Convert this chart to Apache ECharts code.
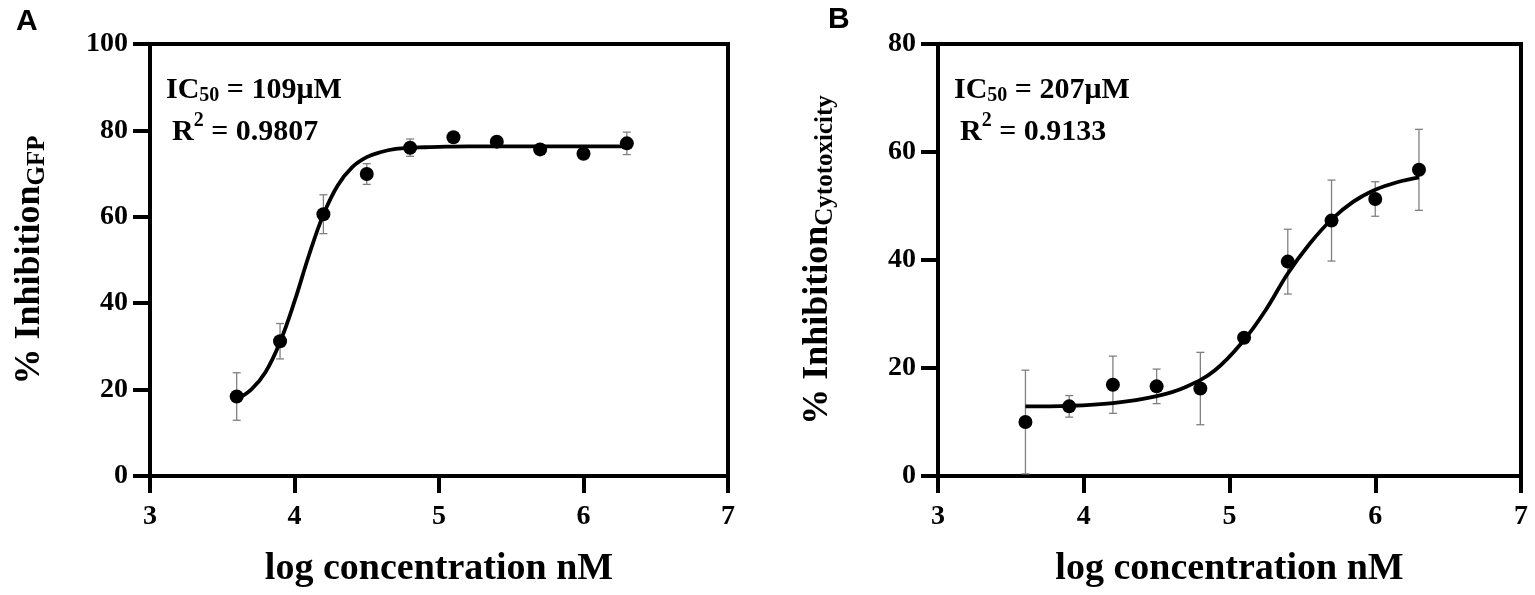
<!DOCTYPE html>
<html>
<head>
<meta charset="utf-8">
<script src="https://cdn.jsdelivr.net/npm/echarts@6/dist/echarts.min.js"></script>
<style>
  html, body { margin: 0; padding: 0; background: #fff; }
  #showcase { width: 1535px; height: 595px; }
</style>
</head>
<body>
<div id="showcase"></div>
<script>
// measured points (log concentration, mean, sd)
var doseX = [3.6, 3.9, 4.2, 4.5, 4.8, 5.1, 5.4, 5.7, 6.0, 6.3];

var gfpMean = [18.4, 31.2, 60.6, 69.9, 76.0, 78.4, 77.4, 75.6, 74.6, 77.0];
var gfpErr  = [5.5, 4.1, 4.5, 2.4, 2.0, 0.6, 0.6, 1.0, 1.0, 2.6];

var cytoMean = [10.0, 12.9, 16.9, 16.6, 16.2, 25.6, 39.7, 47.3, 51.3, 56.7];
var cytoErr  = [9.6, 2.0, 5.3, 3.2, 6.7, 0.8, 6.0, 7.5, 3.2, 7.5];

// fitted curves
var gfpFitX = [3.6, 3.7, 3.8, 3.9, 4.0, 4.1, 4.2, 4.3, 4.4, 4.5, 4.6, 4.7, 4.8, 4.9, 5.0, 5.2, 5.6, 6.0, 6.3];
var gfpFitY = [17.8, 20.0, 24.1, 31.0, 40.4, 51.1, 60.5, 67.3, 71.5, 73.8, 75.0, 75.7, 76.0, 76.1, 76.2, 76.3, 76.3, 76.3, 76.3];

var cytoFitX = [3.6, 3.9, 4.2, 4.5, 4.7, 4.9, 5.1, 5.25, 5.4, 5.55, 5.7, 5.85, 6.0, 6.15, 6.3];
var cytoFitY = [12.9, 13.0, 13.5, 14.8, 16.5, 19.6, 25.2, 30.8, 37.5, 43.0, 47.5, 50.8, 53.0, 54.4, 55.3];

var serif = "'Liberation Serif', 'Times New Roman', serif";
var sans = "'Liberation Sans', Arial, sans-serif";

function zip(a, b) {
    return a.map(function (v, i) { return [v, b[i]]; });
}

function errData(xs, m, e) {
    return xs.map(function (x, i) { return [x, m[i] - e[i], m[i] + e[i]]; });
}

function renderErr(params, api) {
    var x = api.value(0);
    var lo = api.coord([x, api.value(1)]);
    var hi = api.coord([x, api.value(2)]);
    var cap = 4;
    var st = { stroke: '#808080', lineWidth: 1.3 };
    return {
        type: 'group',
        children: [
            { type: 'line', shape: { x1: lo[0], y1: lo[1], x2: hi[0], y2: hi[1] }, style: st },
            { type: 'line', shape: { x1: hi[0] - cap, y1: hi[1], x2: hi[0] + cap, y2: hi[1] }, style: st },
            { type: 'line', shape: { x1: lo[0] - cap, y1: lo[1], x2: lo[0] + cap, y2: lo[1] }, style: st }
        ]
    };
}

function xAxisOpt(idx) {
    return {
        type: 'value', gridIndex: idx, min: 3, max: 7, interval: 1,
        name: 'log concentration nM', nameLocation: 'middle', nameGap: 74,
        nameTextStyle: { fontFamily: serif, fontWeight: 'bold', fontSize: 38, color: '#000' },
        axisLine: { lineStyle: { color: '#000', width: 4 } },
        axisTick: { inside: false, length: 17, lineStyle: { color: '#000', width: 4 } },
        axisLabel: { margin: 27, fontFamily: serif, fontWeight: 'bold', fontSize: 28, color: '#000' },
        splitLine: { show: false }
    };
}

function yAxisOpt(idx, max, main, sub) {
    return {
        type: 'value', gridIndex: idx, min: 0, max: max, interval: 20,
        name: '{m|' + main + '}{s|' + sub + '}', nameLocation: 'middle', nameGap: 100, nameRotate: 90,
        nameTextStyle: {
            color: '#000',
            rich: {
                m: { fontFamily: serif, fontWeight: 'bold', fontSize: 36, lineHeight: 40, color: '#000' },
                s: { fontFamily: serif, fontWeight: 'bold', fontSize: 25, lineHeight: 14, verticalAlign: 'bottom', color: '#000' }
            }
        },
        axisLine: { lineStyle: { color: '#000', width: 4 } },
        axisTick: { inside: false, length: 17, lineStyle: { color: '#000', width: 4 } },
        axisLabel: { margin: 22, fontFamily: serif, fontWeight: 'bold', fontSize: 28, color: '#000' },
        splitLine: { show: false }
    };
}

function statText(x, y, ic, r2) {
    var rich = {
        m: { fontFamily: serif, fontWeight: 'bold', fontSize: 30, lineHeight: 30, fill: '#000' },
        s: { fontFamily: serif, fontWeight: 'bold', fontSize: 20, lineHeight: 12, verticalAlign: 'bottom', fill: '#000' },
        M: { fontFamily: serif, fontWeight: 'bold', fontSize: 30, lineHeight: 44, fill: '#000' },
        p: { fontFamily: serif, fontWeight: 'bold', fontSize: 20, lineHeight: 12, verticalAlign: 'top', fill: '#000' }
    };
    return [
        { type: 'text', x: x, y: y, style: { text: '{m|IC}{s|50}{m| = ' + ic + '}', rich: rich, verticalAlign: 'middle', align: 'left' } },
        { type: 'text', x: x + 6, y: y + 42, style: { text: '{M|R}{p|2}{M| = ' + r2 + '}', rich: rich, verticalAlign: 'middle', align: 'left' } }
    ];
}

var myChart = echarts.init(document.getElementById('showcase'), null, { renderer: 'canvas' });

var options = {
    backgroundColor: '#fff',
    animation: false,
    grid: [
        { left: 150, top: 44, width: 578, height: 432, show: true, borderColor: '#000', borderWidth: 4 },
        { left: 938, top: 44, width: 583, height: 432, show: true, borderColor: '#000', borderWidth: 4 }
    ],
    xAxis: [xAxisOpt(0), xAxisOpt(1)],
    yAxis: [
        yAxisOpt(0, 100, '% Inhibition', 'GFP'),
        yAxisOpt(1, 80, '% Inhibition', 'Cytotoxicity')
    ],
    graphic: [
        { type: 'text', x: 16, y: 7, style: { text: 'A', fontFamily: sans, fontWeight: 'bold', fontSize: 30, fill: '#000' } },
        { type: 'text', x: 828, y: 5, style: { text: 'B', fontFamily: sans, fontWeight: 'bold', fontSize: 30, fill: '#000' } }
    ].concat(statText(166, 90.5, '109μM', '0.9807'), statText(954, 90.5, '207μM', '0.9133')),
    series: [
        { type: 'custom', xAxisIndex: 0, yAxisIndex: 0, renderItem: renderErr, data: errData(doseX, gfpMean, gfpErr), z: 2 },
        { type: 'line', xAxisIndex: 0, yAxisIndex: 0, data: zip(gfpFitX, gfpFitY), smooth: 0.4, showSymbol: false,
          lineStyle: { color: '#000', width: 3.8 }, z: 3 },
        { type: 'scatter', xAxisIndex: 0, yAxisIndex: 0, data: zip(doseX, gfpMean), symbol: 'circle', symbolSize: 14,
          itemStyle: { color: '#000', opacity: 1 }, z: 4 },

        { type: 'custom', xAxisIndex: 1, yAxisIndex: 1, renderItem: renderErr, data: errData(doseX, cytoMean, cytoErr), z: 2 },
        { type: 'line', xAxisIndex: 1, yAxisIndex: 1, data: zip(cytoFitX, cytoFitY), smooth: 0.4, showSymbol: false,
          lineStyle: { color: '#000', width: 3.8 }, z: 3 },
        { type: 'scatter', xAxisIndex: 1, yAxisIndex: 1, data: zip(doseX, cytoMean), symbol: 'circle', symbolSize: 14,
          itemStyle: { color: '#000', opacity: 1 }, z: 4 }
    ]
};

myChart.setOption(options);
</script>
</body>
</html>
